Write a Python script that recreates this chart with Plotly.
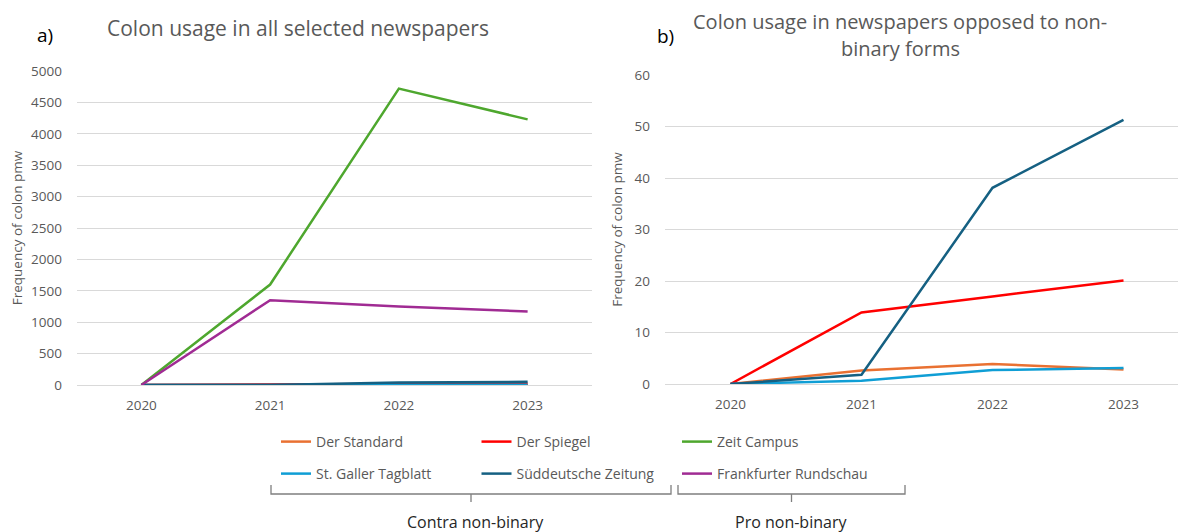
import plotly.graph_objects as go

years = ["2020", "2021", "2022", "2023"]

der_standard = [0, 2.6, 3.9, 2.8]
der_spiegel = [0, 13.9, 17.0, 20.1]
zeit_campus = [0, 1600, 4720, 4230]
st_galler = [0, 0.65, 2.7, 3.1]
sueddeutsche = [0, 1.8, 38.1, 51.3]
frankfurter = [0, 1350, 1250, 1170]

names = ["Der Standard", "Der Spiegel", "Zeit Campus",
         "St. Galler Tagblatt", "Süddeutsche Zeitung", "Frankfurter Rundschau"]
values = [der_standard, der_spiegel, zeit_campus, st_galler, sueddeutsche, frankfurter]
colors = ["#E97132", "#FF0000", "#4EA72E", "#0F9ED5", "#156082", "#A02B93"]
contra = ["Der Standard", "Der Spiegel", "St. Galler Tagblatt", "Süddeutsche Zeitung"]

W, H = 1186, 532
OFF = 8  # page body margin offset
FONT = "Open Sans"
GRAY = "#595959"
GRID = "#D9D9D9"

def px(x):
    return (x - OFF) / W

def py(y):
    return 1 - (y - OFF) / H

fig = go.Figure()

for i, (n, v, c) in enumerate(zip(names, values, colors)):
    fig.add_trace(go.Scatter(
        x=years, y=v, mode="lines", name=n,
        line=dict(color=c, width=2.5),
        xaxis="x", yaxis="y",
        legend="legend" if i < 3 else "legend2",
    ))

for n, v, c in zip(names, values, colors):
    if n in contra:
        fig.add_trace(go.Scatter(
            x=years, y=v, mode="lines", name=n,
            line=dict(color=c, width=2.5),
            xaxis="x2", yaxis="y2", showlegend=False,
        ))

axis_font = dict(family=FONT, size=13.5, color=GRAY)
ytitle_font = dict(family=FONT, size=13.5, color=GRAY)

common_x = dict(type="category", range=[-0.5, 3.5], showgrid=False, showline=False,
                zeroline=False, tickfont=axis_font, ticks="", ticklabelstandoff=10,
                automargin=False)
common_y = dict(showgrid=True, gridcolor=GRID, gridwidth=1, zeroline=True,
                zerolinecolor=GRID, zerolinewidth=1, showline=False, ticks="",
                tickfont=axis_font, ticklabelstandoff=14, automargin=False)

fig.update_layout(
    template="none",
    width=W, height=H, autosize=False,
    margin=dict(l=0, r=0, t=0, b=0, pad=0),
    paper_bgcolor="white", plot_bgcolor="white",
    font=dict(family=FONT, color=GRAY),
    xaxis=dict(domain=[px(77), px(592)], anchor="y", **common_x),
    yaxis=dict(domain=[py(385), py(71)], range=[0, 5000], dtick=500, anchor="x",
               title=dict(text="Frequency of colon pmw", standoff=8, font=ytitle_font),
               **common_y),
    xaxis2=dict(domain=[px(665), px(1189)], anchor="y2", **common_x),
    yaxis2=dict(domain=[py(384), py(75)], range=[0, 60], dtick=10, anchor="x2",
                title=dict(text="Frequency of colon pmw", standoff=8, font=ytitle_font),
                **common_y),
    legend=dict(orientation="h", x=px(276), y=py(442), xanchor="left", yanchor="middle",
                entrywidth=155.5, entrywidthmode="pixels",
                font=dict(family=FONT, size=14, color=GRAY), bgcolor="rgba(0,0,0,0)"),
    legend2=dict(orientation="h", x=px(276), y=py(474), xanchor="left", yanchor="middle",
                 entrywidth=155.5, entrywidthmode="pixels",
                 font=dict(family=FONT, size=14, color=GRAY), bgcolor="rgba(0,0,0,0)"),
    showlegend=True,
)

annotations = [
    dict(text="a)", x=px(45), y=py(35), font=dict(family=FONT, size=19, color="#000000")),
    dict(text="Colon usage in all selected newspapers", x=px(298), y=py(28),
         font=dict(family=FONT, size=21, color=GRAY)),
    dict(text="b)", x=px(665), y=py(36), font=dict(family=FONT, size=19, color="#000000")),
    dict(text="Colon usage in newspapers opposed to non-", x=px(900), y=py(22),
         font=dict(family=FONT, size=20, color=GRAY)),
    dict(text="binary forms", x=px(900), y=py(48),
         font=dict(family=FONT, size=20, color=GRAY)),
    dict(text="Contra non-binary", x=px(475), y=py(522),
         font=dict(family=FONT, size=16, color="#262626")),
    dict(text="Pro non-binary", x=px(791), y=py(522),
         font=dict(family=FONT, size=16, color="#262626")),
]
for a in annotations:
    a.update(xref="paper", yref="paper", showarrow=False, xanchor="center", yanchor="middle")
fig.update_layout(annotations=annotations)

def bracket(x0, x1, ytop, ybot, ytick):
    xm = (x0 + x1) / 2
    path = (f"M {px(x0)},{py(ytop)} L {px(x0)},{py(ybot)} L {px(x1)},{py(ybot)} "
            f"L {px(x1)},{py(ytop)} M {px(xm)},{py(ybot)} L {px(xm)},{py(ytick)}")
    return dict(type="path", path=path, xref="paper", yref="paper",
                line=dict(color="#7F7F7F", width=1.3))

fig.update_layout(shapes=[bracket(271, 671, 485, 494, 502),
                          bracket(678, 905, 485, 494, 502)])

fig.write_html("out.html")
